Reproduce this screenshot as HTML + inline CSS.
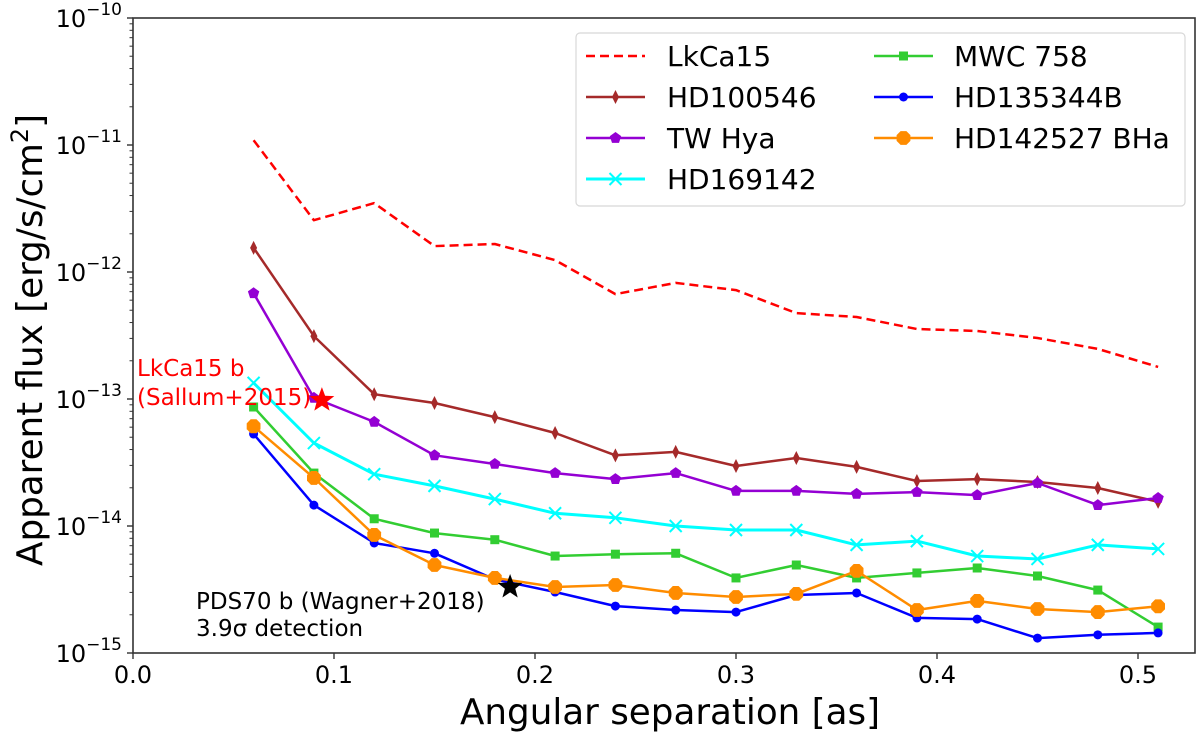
<!DOCTYPE html>
<html><head><meta charset="utf-8"><style>
html,body{margin:0;padding:0;background:#fff;}
svg{display:block;}
text{font-family:"DejaVu Sans","Liberation Sans",sans-serif;}
</style></head><body>
<svg id="chart" width="1200" height="735" viewBox="0 0 1200 735" xmlns="http://www.w3.org/2000/svg">
<g id="grid"></g>
<g id="series"></g>
<g id="legend"></g>
</svg>
<script>
const xs = [0.06,0.09,0.12,0.15,0.18,0.21,0.24,0.27,0.30,0.33,0.36,0.39,0.42,0.45,0.48,0.51];
const lkca15 = [1.09e-11,2.56e-12,3.49e-12,1.60e-12,1.66e-12,1.24e-12,6.7e-13,8.2e-13,7.2e-13,4.75e-13,4.42e-13,3.56e-13,3.43e-13,3.02e-13,2.48e-13,1.79e-13];
const hd100546 = [1.55e-12,3.13e-13,1.09e-13,9.3e-14,7.2e-14,5.4e-14,3.6e-14,3.83e-14,2.97e-14,3.43e-14,2.92e-14,2.26e-14,2.34e-14,2.22e-14,1.99e-14,1.55e-14];
const twhya = [6.8e-13,1.02e-13,6.6e-14,3.6e-14,3.08e-14,2.61e-14,2.34e-14,2.61e-14,1.89e-14,1.89e-14,1.79e-14,1.85e-14,1.75e-14,2.18e-14,1.46e-14,1.66e-14];
const hd169142 = [1.34e-13,4.5e-14,2.56e-14,2.07e-14,1.63e-14,1.26e-14,1.16e-14,1.0e-14,9.3e-15,9.3e-15,7.1e-15,7.6e-15,5.8e-15,5.5e-15,7.1e-15,6.6e-15];
const mwc758 = [8.65e-14,2.61e-14,1.14e-14,8.8e-15,7.8e-15,5.8e-15,6.0e-15,6.1e-15,3.9e-15,4.93e-15,3.9e-15,4.27e-15,4.67e-15,4.04e-15,3.13e-15,1.60e-15];
const hd135344b = [5.3e-14,1.46e-14,7.35e-15,6.1e-15,3.8e-15,3.02e-15,2.34e-15,2.18e-15,2.10e-15,2.86e-15,2.97e-15,1.89e-15,1.85e-15,1.31e-15,1.39e-15,1.44e-15];
const hd142527 = [6.1e-14,2.39e-14,8.5e-15,4.93e-15,3.9e-15,3.31e-15,3.43e-15,2.97e-15,2.76e-15,2.92e-15,4.43e-15,2.18e-15,2.57e-15,2.22e-15,2.10e-15,2.33e-15];
const xTicks = [0.0,0.1,0.2,0.3,0.4,0.5];
const xTickLabels = ["0.0","0.1","0.2","0.3","0.4","0.5"];
const yTickExps = [-10,-11,-12,-13,-14,-15];
const starLkCa = [0.094, 9.8e-14];
const starPDS = [0.1876, 3.31e-15];

const NS="http://www.w3.org/2000/svg";
const L=133,R=1195,T=18,B=653;
const xMin=0,xMax=(R-L)/2010;
function xp(v){return L+(v-xMin)/(xMax-xMin)*(R-L);}
function yp(v){return T+(-10-Math.log10(v))/5*(B-T);}
function mk(tag,attrs,parent){const e=document.createElementNS(NS,tag);for(const k in attrs)e.setAttribute(k,attrs[k]);parent.appendChild(e);return e;}
const grid=document.getElementById('grid'),ser=document.getElementById('series'),leg=document.getElementById('legend');

let fr=mk('rect',{x:L,y:T,width:R-L,height:B-T,fill:'none',stroke:'#333','stroke-width':1.6},grid);



xTicks.forEach((t,i)=>{
  const x=xp(t);
  let tk=mk('line',{x1:x,x2:x,y1:B,y2:B+6,stroke:'#333','stroke-width':1.4},grid);
  
  
  let tl=mk('text',{x:x,y:B+30,'text-anchor':'middle','font-size':24,fill:'#000'},grid);
  tl.textContent=xTickLabels[i];
  
  
});
yTickExps.forEach(e=>{
  const y=yp(Math.pow(10,e));
  let tk=mk('line',{x1:L-6,x2:L,y1:y,y2:y,stroke:'#333','stroke-width':1.4},grid);
  
  
  let tl=mk('text',{x:L-11,y:y+9,'text-anchor':'end','font-size':24,fill:'#000'},grid);
  
  
  const a=mk('tspan',{},tl);a.textContent='10';
  const b=mk('tspan',{dy:-12,'font-size':17},tl);b.textContent='\u2212'+Math.abs(e);
  if(e>-15){for(let m=2;m<10;m++){
    const ym=yp(m*Math.pow(10,e-1));
    let mt=mk('line',{x1:L-3.5,x2:L,y1:ym,y2:ym,stroke:'#333','stroke-width':1},grid);
    
    
  }}
});
let xl=mk('text',{x:670,y:724,'text-anchor':'middle','font-size':36,'textLength':420,'lengthAdjust':'spacingAndGlyphs',fill:'#000'},grid);
xl.textContent='Angular separation [as]';


let yl=mk('text',{x:0,y:0,'text-anchor':'middle','font-size':36,'textLength':452,'lengthAdjust':'spacingAndGlyphs',fill:'#000',transform:'translate(42,340) rotate(-90)'},grid);


const y1=mk('tspan',{},yl);y1.textContent='Apparent flux [erg/s/cm';
const y2=mk('tspan',{dy:-14,'font-size':24},yl);y2.textContent='2';
const y3=mk('tspan',{dy:14},yl);y3.textContent=']';

function marker(g,type,x,y,c){
  if(type==='d'){mk('polygon',{points:`${x},${y-7} ${x+3.5},${y} ${x},${y+7} ${x-3.5},${y}`,fill:c},g);}
  else if(type==='p'){const r=6,pts=[];for(let i=0;i<5;i++){const a=-Math.PI/2+i*2*Math.PI/5;pts.push((x+r*Math.cos(a)).toFixed(1)+','+(y+r*Math.sin(a)).toFixed(1));}mk('polygon',{points:pts.join(' '),fill:c},g);}
  else if(type==='x'){mk('path',{d:`M${x-6},${y-6}L${x+6},${y+6}M${x-6},${y+6}L${x+6},${y-6}`,stroke:c,'stroke-width':2,fill:'none'},g);}
  else if(type==='s'){mk('rect',{x:x-4.5,y:y-4.5,width:9,height:9,fill:c},g);}
  else if(type==='o'){mk('circle',{cx:x,cy:y,r:4.5,fill:c},g);}
  else if(type==='8'){const r=7.5,pts=[];for(let i=0;i<8;i++){const a=Math.PI/8+i*Math.PI/4;pts.push((x+r*Math.cos(a)).toFixed(1)+','+(y+r*Math.sin(a)).toFixed(1));}mk('polygon',{points:pts.join(' '),fill:c},g);}
}
const seriesDefs=[
 {name:'LkCa15',data:lkca15,color:'#ff0000',m:null,dash:'9,5',w:2.5},
 {name:'HD100546',data:hd100546,color:'#a52a2a',m:'d',w:2.5},
 {name:'TW Hya',data:twhya,color:'#9400d3',m:'p',w:2.5},
 {name:'HD169142',data:hd169142,color:'#00ffff',m:'x',w:3},
 {name:'MWC 758',data:mwc758,color:'#32cd32',m:'s',w:2.5},
 {name:'HD135344B',data:hd135344b,color:'#0000ff',m:'o',w:2.5},
 {name:'HD142527 BHa',data:hd142527,color:'#ff8c00',m:'8',w:2.5}
];
const slug=s=>s.toLowerCase().replace(/[^a-z0-9]+/g,'-');
seriesDefs.forEach(s=>{
  const g=mk('g',{},ser);
  
  
  const pts=xs.map((x,i)=>xp(x).toFixed(1)+','+yp(s.data[i]).toFixed(1)).join(' ');
  const pl=mk('polyline',{points:pts,fill:'none',stroke:s.color,'stroke-width':s.w,'stroke-linejoin':'round'},g);
  if(s.dash)pl.setAttribute('stroke-dasharray',s.dash);
  
  
  if(s.m)xs.forEach((x,i)=>marker(g,s.m,xp(x),yp(s.data[i]),s.color));
});
function star(x,y,r,c,name){
  const pts=[];for(let i=0;i<10;i++){const a=-Math.PI/2+i*Math.PI/5;const rr=i%2?r*0.42:r;pts.push((x+rr*Math.cos(a)).toFixed(1)+','+(y+rr*Math.sin(a)).toFixed(1));}
  const p=mk('polygon',{points:pts.join(' '),fill:c},ser);
  
  
}
star(xp(starLkCa[0]),yp(starLkCa[1]),13,'#ff0000','lkca15b-star');
star(xp(starPDS[0]),yp(starPDS[1]),13,'#000000','pds70b-star');
function ann(x,y,txt,c,name){const t=mk('text',{x:x,y:y,'font-size':23,fill:c},ser);t.textContent=txt;}
ann(137,376,'LkCa15 b','#ff0000','lkca15b-label');
ann(137,405,'(Sallum+2015)','#ff0000','lkca15b-ref');
ann(196,609,'PDS70 b (Wagner+2018)','#000','pds70b-label');
ann(196,636,'3.9\u03c3 detection','#000','pds70b-detection');

const box=mk('rect',{x:576,y:33,width:609,height:173,rx:4,fill:'#fff','fill-opacity':0.85,stroke:'#d8d8d8','stroke-width':1.2},leg);


const rowsY=[56,97,138,179];
seriesDefs.forEach((s,i)=>{
  const col=i<4?0:1,row=i<4?i:i-4;
  const x0=col?874:586,x1=col?933:645,tx=col?954:667,y=rowsY[row];
  const g=mk('g',{},leg);
  
  
  const ln=mk('line',{x1:x0,x2:x1,y1:y,y2:y,stroke:s.color,'stroke-width':s.w},g);
  if(s.dash)ln.setAttribute('stroke-dasharray',s.dash);
  if(s.m)marker(g,s.m,(x0+x1)/2,y,s.color);
  const t=mk('text',{x:tx,y:y+10,'font-size':28,fill:'#000'},g);
  t.textContent=s.name;
});
</script>
</body></html>
